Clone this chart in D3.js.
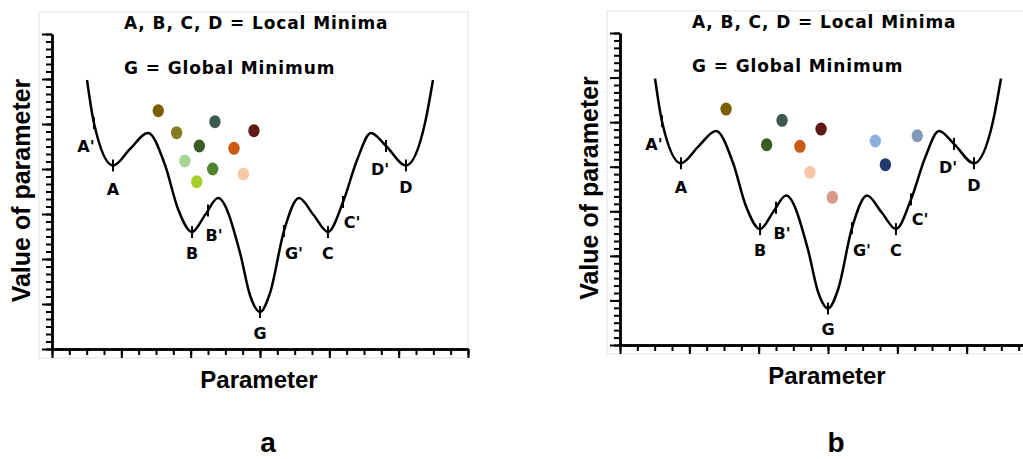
<!DOCTYPE html>
<html>
<head>
<meta charset="utf-8">
<script src="https://cdn.jsdelivr.net/npm/d3@7"></script>
<style>
body { margin: 0; background: #fff; }
</style>
</head>
<body>
<svg id="chart" width="1023" height="459"></svg>
<script>
// Landscape curve, in axis tick units (x: 0..24, y: 0..42)
const curveX = [2.02, 2.42, 3.52, 4.50, 5.54, 6.52, 7.27, 8.08, 8.83, 9.58, 10.85, 11.42, 12.0,
	12.58, 13.38, 14.25, 15.09, 15.92, 16.79, 17.6, 18.40, 19.27, 20.42, 21.52, 21.98];
const curveY = [35.87, 30.13, 24.47, 26.67, 28.8, 24.53, 18.67, 15.6, 17.87, 20.13, 12.8, 7.2, 4.93,
	7.47, 15.73, 20.13, 17.87, 15.6, 19.6, 25.2, 28.8, 27.07, 24.47, 30.13, 35.87];

// Marked points on the curve
const markNames = ["A'", "A", "B", "B'", "G", "G'", "C", "C'", "D'", "D"];
const markX = [2.42, 3.52, 8.08, 9.0, 12.0, 13.38, 15.92, 16.79, 19.27, 20.42];

// Dots (parameter positions) for panel a
const dotsAX = [6.13, 7.19, 9.40, 11.65, 8.50, 10.50, 7.67, 9.27, 11.04, 8.35];
const dotsAY = [31.77, 28.84, 30.31, 29.11, 27.07, 26.76, 25.07, 24.0, 23.33, 22.31];
const dotsAColor = ["#7b5e00", "#857c20", "#3f5a4f", "#5e1a16", "#3b5a24",
	"#cc5a12", "#a8d498", "#4e8430", "#f7c8a8", "#a7cf2a"];

// Dots for panel b
const dotsBX = [6.12, 9.35, 11.60, 8.46, 10.38, 10.96, 12.25, 14.73, 15.31, 17.15];
const dotsBY = [31.76, 30.24, 29.07, 26.96, 26.74, 23.24, 19.88, 27.46, 24.27, 28.17];
const dotsBColor = ["#7b5e00", "#3f5a4f", "#5e1a16", "#3b5a24", "#cc5a12",
	"#f7c8a8", "#d99a8a", "#8eaee0", "#1f3a6b", "#8298b4"];

// Tick positions
const xTicks = d3.range(0, 25);
const xMajor = d3.range(0, 25, 4);
const yTicks = d3.range(0, 43);
const yMajor = d3.range(0, 43, 6);

const titles = ["A, B, C, D = Local Minima", "G = Global Minimum"];
const xTitle = "Parameter";
const yTitle = "Value of parameter";
const panelNames = ["a", "b"];

const svg = d3.select("#chart");

// label offsets from the mark (text centre, baseline)
const labelShift = {
	"A'": [-8, 29], "A": [0, 30], "B": [0, 27], "B'": [6, 31], "G": [0, 27],
	"G'": [10, 28], "C": [0, 27], "C'": [9, 26], "D'": [-6, 29], "D": [0, 28]
};

function drawPanel(p) {
	const g = svg.append("g");

	const x = d3.scaleLinear().domain([0, 24]).range([p.left, p.left + 416]);
	const y = d3.scaleLinear().domain([0, 42]).range([p.bottom, p.top]);

	// light frame
	g.append("rect")
		.attr("x", p.left - 13).attr("y", p.frameTop)
		.attr("width", 429).attr("height", p.bottom + 9 - p.frameTop)
		.attr("fill", "none").attr("stroke", "#e2e2e2").attr("stroke-width", 1);

	// axes: minor ticks, then major ticks
	const xg = g.append("g").attr("transform", `translate(0,${p.bottom})`);
	xg.append("g").call(d3.axisBottom(x).tickValues(xTicks).tickSize(6).tickSizeOuter(0).tickFormat(""));
	xg.append("g").call(d3.axisBottom(x).tickValues(xMajor).tickSize(9).tickSizeOuter(0).tickFormat(""));

	const yg = g.append("g").attr("transform", `translate(${p.left},0)`);
	yg.append("g").call(d3.axisLeft(y).tickValues(yTicks).tickSize(6).tickSizeOuter(0).tickFormat(""));
	yg.append("g").call(d3.axisLeft(y).tickValues(yMajor).tickSize(10).tickSizeOuter(0).tickFormat(""));

	g.selectAll(".domain").attr("stroke", "#000").attr("stroke-width", 2.5);
	g.selectAll(".tick line").attr("stroke", "#000").attr("stroke-width", 2);

	// curve
	const pts = curveX.map((d, i) => [d, curveY[i]]);
	const line = d3.line().x((d) => x(d[0])).y((d) => y(d[1])).curve(d3.curveMonotoneX);
	const path = g.append("path")
		.attr("d", line(pts))
		.attr("fill", "none")
		.attr("stroke", "#000")
		.attr("stroke-width", 2.5);

	// find the point of the curve at a given screen x
	const node = path.node();
	const total = node.getTotalLength();
	function yAt(px) {
		let lo = 0, hi = total;
		for (let k = 0; k < 40; k++) {
			const mid = (lo + hi) / 2;
			if (node.getPointAtLength(mid).x < px) lo = mid; else hi = mid;
		}
		return node.getPointAtLength(lo).y;
	}

	markNames.forEach((name, i) => {
		const mx = x(markX[i]);
		const my = yAt(mx);
		g.append("line")
			.attr("x1", mx).attr("x2", mx)
			.attr("y1", my - 6).attr("y2", my + 6)
			.attr("stroke", "#000").attr("stroke-width", 2);
		g.append("text")
			.attr("x", mx + labelShift[name][0])
			.attr("y", my + labelShift[name][1])
			.attr("text-anchor", "middle")
			.attr("font-family", "DejaVu Sans")
			.attr("font-weight", "bold")
			.attr("font-size", 16)
			.text(name);
	});

	// dots
	g.selectAll("ellipse")
		.data(p.dotsX.map((d, i) => ({ x: d, y: p.dotsY[i], c: p.colors[i] })))
		.enter()
		.append("ellipse")
		.attr("cx", (d) => x(d.x))
		.attr("cy", (d) => y(d.y))
		.attr("rx", 5.7)
		.attr("ry", 6.5)
		.attr("fill", (d) => d.c);

	// titles
	titles.forEach((t, i) => {
		g.append("text")
			.attr("x", p.left + 72)
			.attr("y", p.titleY[i])
			.attr("font-family", "DejaVu Sans")
			.attr("font-weight", "bold")
			.attr("font-size", 17)
			.attr("letter-spacing", 0.9)
			.text(t);
	});

	// axis titles
	g.append("text")
		.attr("x", p.left + 207)
		.attr("y", p.bottom + 39)
		.attr("text-anchor", "middle")
		.attr("font-family", "Liberation Sans")
		.attr("font-weight", "bold")
		.attr("font-size", 24)
		.text(xTitle);

	g.append("text")
		.attr("transform", `translate(${p.left - 22},${(p.top + p.bottom) / 2 - 1}) rotate(-90)`)
		.attr("text-anchor", "middle")
		.attr("font-family", "Liberation Sans")
		.attr("font-weight", "bold")
		.attr("font-size", 25)
		.text(yTitle);

	// panel letter
	g.append("text")
		.attr("x", p.left + 216)
		.attr("y", 452)
		.attr("text-anchor", "middle")
		.attr("font-family", "Liberation Sans")
		.attr("font-weight", "bold")
		.attr("font-size", 28)
		.text(p.name);
}

drawPanel({ name: panelNames[0], left: 52, bottom: 349, top: 34, frameTop: 12, titleY: [29, 74],
	dotsX: dotsAX, dotsY: dotsAY, colors: dotsAColor });
drawPanel({ name: panelNames[1], left: 620, bottom: 345, top: 33, frameTop: 11, titleY: [28, 72],
	dotsX: dotsBX, dotsY: dotsBY, colors: dotsBColor });
</script>
</body>
</html>
